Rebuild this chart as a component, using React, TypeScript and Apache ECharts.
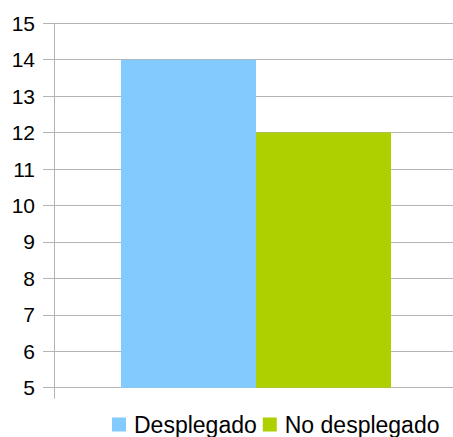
import React, { useEffect, useRef } from "react";
import * as echarts from "echarts";

const categories = [""];
const seriesNames = ["Desplegado", "No desplegado"];
const desplegado = [14];
const noDesplegado = [12];
const colors = ["#83CAFF", "#AECF00"];

export default function App() {
  const ref = useRef<HTMLDivElement>(null);

  useEffect(() => {
    if (!ref.current) return;
    const chart = echarts.init(ref.current, null, { renderer: "svg" });
    const font = "'Liberation Sans', Arial, sans-serif";
    chart.setOption({
      animation: false,
      color: colors,
      grid: {
        left: 54,
        width: 404,
        top: 23.3,
        height: 364.4,
        containLabel: false,
        outerBoundsMode: "none",
      },
      legend: {
        data: seriesNames,
        left: 112,
        top: 413,
        padding: 0,
        itemWidth: 14,
        itemHeight: 14,
        itemGap: 6,
        icon: "rect",
        textStyle: {
          fontFamily: font,
          fontSize: 23,
          lineHeight: 23,
          color: "#000",
          padding: [0, 0, 0, 3],
        },
      },
      xAxis: {
        type: "category",
        data: categories,
        axisLine: { show: true, lineStyle: { color: "#b3b3b3", width: 1 } },
        axisTick: { show: true, length: 11, lineStyle: { color: "#b3b3b3" } },
        axisLabel: { show: false },
        splitLine: { show: false },
      },
      yAxis: {
        type: "value",
        min: 5,
        max: 15,
        interval: 1,
        axisLine: { show: true, lineStyle: { color: "#b3b3b3", width: 1 } },
        axisTick: { show: true, length: 11, lineStyle: { color: "#b3b3b3" } },
        axisLabel: { fontFamily: font, fontSize: 21, color: "#000", margin: 19 },
        splitLine: { show: true, lineStyle: { color: "#b3b3b3", width: 1 } },
      },
      series: [
        {
          name: seriesNames[0],
          type: "bar",
          data: desplegado,
          barWidth: 135,
          barGap: "0%",
        },
        {
          name: seriesNames[1],
          type: "bar",
          data: noDesplegado,
          barWidth: 135,
          barGap: "0%",
        },
      ],
    });
    return () => chart.dispose();
  }, []);

  return (
    <div
      ref={ref}
      style={{ position: "absolute", left: 0, top: 0, width: 453, height: 437, background: "#fff" }}
    />
  );
}
